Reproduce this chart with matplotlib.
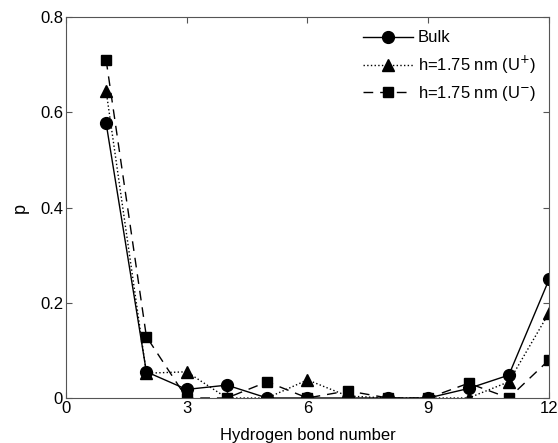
import numpy as np
import matplotlib.pyplot as plt

plt.rcParams['font.family'] = ['Liberation Sans', 'DejaVu Sans']

# hydrogen bond number distribution
hb_number = [1, 2, 3, 4, 5, 6, 7, 8, 9, 10, 11, 12]
p_bulk = [0.577, 0.055, 0.018, 0.027, 0.0, 0.0, 0.0, 0.0, 0.0, 0.02, 0.048, 0.249]
p_uplus = [0.645, 0.052, 0.055, 0.0, 0.0, 0.038, 0.004, 0.0, 0.0, 0.0, 0.034, 0.179]
p_uminus = [0.71, 0.129, 0.0, 0.0, 0.034, 0.0, 0.015, 0.0, 0.0, 0.031, 0.0, 0.08]

fig = plt.figure(figsize=(5.58, 4.43), dpi=100)
ax = fig.add_axes([0.118, 0.1016, 0.866, 0.86])

ax.plot(hb_number, p_bulk, color='black', lw=1.0, ls='-', marker='o', ms=8.5, label='Bulk')
ax.plot(hb_number, p_uplus, color='black', lw=1.0, ls=':', marker='^', ms=8.5, label='h=1.75 nm (U$^{+}$)')
ax.plot(hb_number, p_uminus, color='black', lw=1.0, ls=(0, (7, 5)), marker='s', ms=6.5, label='h=1.75 nm (U$^{-}$)')

ax.set_xlim(0, 12)
ax.set_ylim(0, 0.8)
ax.set_xticks([0, 3, 6, 9, 12])
ax.set_yticks([0, 0.2, 0.4, 0.6, 0.8])
ax.set_xticklabels(['0', '3', '6', '9', '12'])
ax.set_yticklabels(['0', '0.2', '0.4', '0.6', '0.8'])
ax.tick_params(direction='in', top=True, right=True, labelsize=12, length=4, pad=2, color='#555555')
for s in ax.spines.values():
    s.set_color('#555555')

ax.set_xlabel('Hydrogen bond number', fontsize=12, labelpad=9)
ax.set_ylabel('p', fontsize=13, labelpad=8)

ax.legend(loc='upper right', frameon=False, fontsize=12, handlelength=3, handletextpad=0.3,
          labelspacing=0.5, borderaxespad=0.4)

fig.savefig('out.png', dpi=100)
